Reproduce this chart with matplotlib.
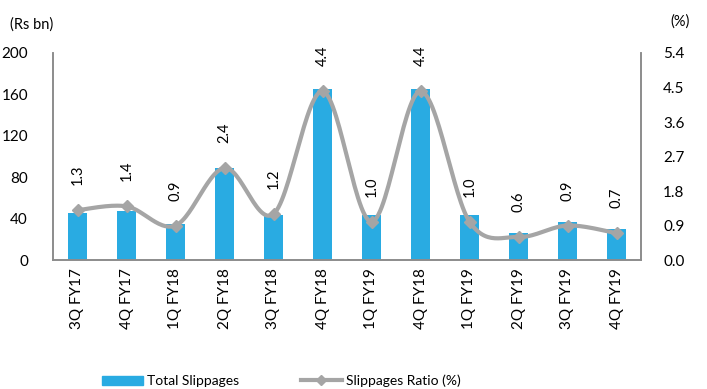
import numpy as np
import matplotlib.pyplot as plt
from matplotlib.lines import Line2D
from matplotlib.patches import Patch

quarters = ['3Q FY17', '4Q FY17', '1Q FY18', '2Q FY18', '3Q FY18', '4Q FY18',
            '1Q FY19', '4Q FY18', '1Q FY19', '2Q FY19', '3Q FY19', '4Q FY19']
slippages = [45, 47, 35, 89, 43, 165, 43, 165, 43, 26, 37, 30]
ratio = [1.3, 1.4, 0.9, 2.4, 1.2, 4.4, 1.0, 4.4, 1.0, 0.6, 0.9, 0.7]

bar_color = '#29ABE2'
line_color = '#A5A5A5'
axis_color = '#8C8C8C'

plt.rcParams['font.family'] = ['Lato', 'DejaVu Sans']


def smooth(xs, ys, n=30):
    # Catmull-Rom style curve through every point
    xs = np.asarray(xs, float)
    ys = np.asarray(ys, float)
    px, py = [], []
    for i in range(len(xs) - 1):
        x0, y0 = (xs[i - 1], ys[i - 1]) if i > 0 else (xs[i], ys[i])
        x1, y1 = xs[i], ys[i]
        x2, y2 = xs[i + 1], ys[i + 1]
        x3, y3 = (xs[i + 2], ys[i + 2]) if i + 2 < len(xs) else (x2, y2)
        c1 = (x1 + (x2 - x0) / 6, y1 + (y2 - y0) / 6)
        c2 = (x2 - (x3 - x1) / 6, y2 - (y3 - y1) / 6)
        t = np.linspace(0, 1, n)
        bx = (1 - t) ** 3 * x1 + 3 * (1 - t) ** 2 * t * c1[0] + 3 * (1 - t) * t ** 2 * c2[0] + t ** 3 * x2
        by = (1 - t) ** 3 * y1 + 3 * (1 - t) ** 2 * t * c1[1] + 3 * (1 - t) * t ** 2 * c2[1] + t ** 3 * y2
        px.extend(bx)
        py.extend(by)
    return np.array(px), np.array(py)


fig = plt.figure(figsize=(7.07, 3.89), dpi=100)
ax = fig.add_axes([53 / 707, 1 - 260 / 389, 588 / 707, 207 / 389])
x = np.arange(len(quarters))

ax.bar(x, slippages, width=0.4, color=bar_color, zorder=2)
ax.set_ylim(0, 200)
ax.set_yticks(range(0, 201, 40))
ax.set_xlim(-0.5, len(quarters) - 0.5)
ax.set_xticks(x)
ax.set_xticklabels(quarters, rotation=90, fontsize=10.5)

ax2 = ax.twinx()
sx, sy = smooth(x, ratio)
ax2.plot(sx, sy, color=line_color, lw=3, zorder=3, solid_capstyle='round')
ax2.plot(x, ratio, ls='none', marker='D', ms=6, color=line_color, zorder=4)
ax2.set_ylim(0, 5.4)
ax2.set_yticks(np.arange(0, 5.41, 0.9))
ax2.set_yticklabels([f'{v:.1f}' for v in np.arange(0, 5.41, 0.9)])

for xi, yi in zip(x, ratio):
    ax2.annotate(f'{yi:.1f}', (xi, yi), xytext=(0, 18), textcoords='offset points',
                 rotation=90, ha='center', va='bottom', fontsize=10.5)

for a in (ax, ax2):
    a.spines['top'].set_visible(False)
    for s in ('left', 'right', 'bottom'):
        a.spines[s].set_color(axis_color)
        a.spines[s].set_linewidth(1.2)
    a.tick_params(length=0, labelsize=11, colors='black')
ax.tick_params(axis='y', pad=18)
ax2.tick_params(axis='y', pad=16)
ax.tick_params(axis='x', pad=6)

fig.text(10 / 707, 1 - 25 / 389, '(Rs bn)', fontsize=10.5, va='center')
fig.text(670 / 707, 1 - 22 / 389, '(%)', fontsize=10.5, va='center')

handles = [Patch(color=bar_color),
           Line2D([], [], color=line_color, lw=3, marker='D', ms=5)]
fig.legend(handles, ['Total Slippages', 'Slippages Ratio (%)'], loc='center',
           bbox_to_anchor=(0.398, 1 - 381 / 389), ncol=2, frameon=False,
           fontsize=10, columnspacing=4.5, handlelength=2.9, handletextpad=0.3)

fig.savefig('out.png', dpi=100)
